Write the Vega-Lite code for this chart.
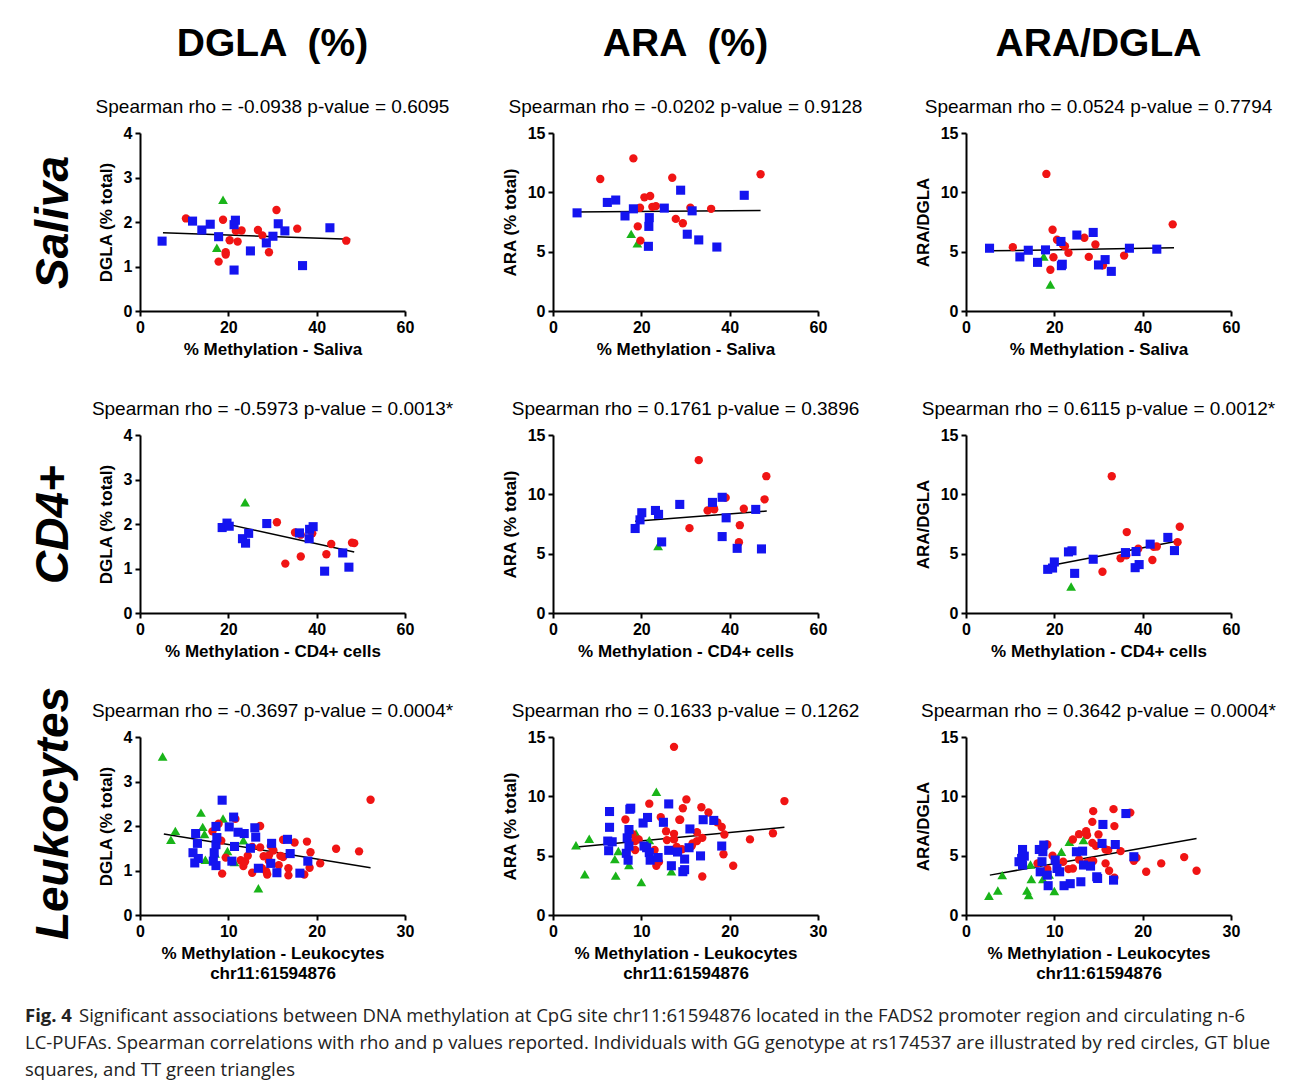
{
"$schema":"https://vega.github.io/schema/vega-lite/v6.json",
"background":"white",
"padding":{"left":25,"top":25,"right":5,"bottom":5},
"config":{
 "view":{"stroke":null},
 "font":"Liberation Sans",
 "axis":{"domainColor":"black","domainWidth":2,"tickColor":"black","tickWidth":2,"tickSize":5,"labelColor":"black","labelFont":"Liberation Sans","labelFontSize":16,"labelFontWeight":"bold","labelPadding":3,"titleColor":"black","titleFont":"Liberation Sans","titleFontSize":17,"titleFontWeight":"bold","grid":false,"labelFlush":false,"titleLineHeight":20},
 "axisX":{"titlePadding":6},
 "axisY":{"titlePadding":8},
 "title":{"font":"Liberation Sans","fontSize":19,"fontWeight":"normal","color":"black","subtitleFont":"Liberation Sans","subtitleFontSize":19,"subtitleColor":"black","offset":8,"anchor":"middle"}
},
"datasets":{
"fit":[
{"p":"SD","x":5.2,"y":1.76},{"p":"SD","x":47.6,"y":1.61},
{"p":"SA","x":4.6,"y":8.35},{"p":"SA","x":47.0,"y":8.47},
{"p":"SR","x":5.4,"y":5.07},{"p":"SR","x":47.1,"y":5.32},
{"p":"CD","x":18.7,"y":2.02},{"p":"CD","x":48.5,"y":1.37},
{"p":"CA","x":18.6,"y":7.74},{"p":"CA","x":48.4,"y":8.59},
{"p":"CR","x":18.6,"y":3.96},{"p":"CR","x":48.3,"y":6.09},
{"p":"LD","x":2.7,"y":1.82},{"p":"LD","x":26.1,"y":1.06},
{"p":"LA","x":2.7,"y":5.73},{"p":"LA","x":26.2,"y":7.39},
{"p":"LR","x":2.7,"y":3.36},{"p":"LR","x":26.1,"y":6.45}
],
"cap":[
{"k":"fig","line":1,"text":"Fig. 4"},
{"k":"l1","line":1,"text":"Significant associations between DNA methylation at CpG site chr11:61594876 located in the FADS2 promoter region and circulating n-6"},
{"k":"l","line":2,"text":"LC-PUFAs. Spearman correlations with rho and p values reported. Individuals with GG genotype at rs174537 are illustrated by red circles, GT blue"},
{"k":"l","line":3,"text":"squares, and TT green triangles"}
],
"pts":[
{"p":"SD","g":"TT","x":17.4,"y":1.42},{"p":"SD","g":"TT","x":18.8,"y":2.50},
{"p":"SD","g":"GG","x":10.4,"y":2.08},{"p":"SD","g":"GG","x":18.8,"y":2.05},{"p":"SD","g":"GG","x":17.8,"y":1.11},{"p":"SD","g":"GG","x":19.4,"y":1.32},{"p":"SD","g":"GG","x":19.4,"y":1.27},{"p":"SD","g":"GG","x":20.3,"y":1.59},{"p":"SD","g":"GG","x":21.7,"y":1.80},{"p":"SD","g":"GG","x":22.1,"y":1.56},{"p":"SD","g":"GG","x":23.0,"y":1.81},{"p":"SD","g":"GG","x":26.7,"y":1.82},{"p":"SD","g":"GG","x":27.7,"y":1.70},{"p":"SD","g":"GG","x":29.2,"y":1.32},{"p":"SD","g":"GG","x":30.9,"y":2.27},{"p":"SD","g":"GG","x":35.6,"y":1.85},{"p":"SD","g":"GG","x":46.7,"y":1.58},
{"p":"SD","g":"GT","x":5.0,"y":1.57},{"p":"SD","g":"GT","x":11.9,"y":2.02},{"p":"SD","g":"GT","x":14.0,"y":1.82},{"p":"SD","g":"GT","x":15.9,"y":1.95},{"p":"SD","g":"GT","x":17.8,"y":1.67},{"p":"SD","g":"GT","x":21.3,"y":0.92},{"p":"SD","g":"GT","x":21.3,"y":1.94},{"p":"SD","g":"GT","x":21.6,"y":2.04},{"p":"SD","g":"GT","x":25.0,"y":1.35},{"p":"SD","g":"GT","x":28.6,"y":1.53},{"p":"SD","g":"GT","x":30.1,"y":1.68},{"p":"SD","g":"GT","x":31.3,"y":1.96},{"p":"SD","g":"GT","x":32.8,"y":1.80},{"p":"SD","g":"GT","x":36.8,"y":1.02},{"p":"SD","g":"GT","x":43.0,"y":1.87},

{"p":"SA","g":"TT","x":17.7,"y":6.50},{"p":"SA","g":"TT","x":19.1,"y":5.70},
{"p":"SA","g":"GG","x":10.7,"y":11.12},{"p":"SA","g":"GG","x":18.2,"y":12.86},{"p":"SA","g":"GG","x":19.7,"y":8.70},{"p":"SA","g":"GG","x":19.2,"y":7.13},{"p":"SA","g":"GG","x":19.8,"y":5.93},{"p":"SA","g":"GG","x":20.7,"y":9.58},{"p":"SA","g":"GG","x":22.0,"y":9.69},{"p":"SA","g":"GG","x":22.5,"y":8.78},{"p":"SA","g":"GG","x":23.3,"y":8.84},{"p":"SA","g":"GG","x":27.0,"y":11.23},{"p":"SA","g":"GG","x":27.8,"y":7.76},{"p":"SA","g":"GG","x":29.4,"y":7.39},{"p":"SA","g":"GG","x":31.1,"y":8.70},{"p":"SA","g":"GG","x":35.8,"y":8.61},{"p":"SA","g":"GG","x":47.0,"y":11.52},
{"p":"SA","g":"GT","x":5.45,"y":8.27},{"p":"SA","g":"GT","x":12.3,"y":9.15},{"p":"SA","g":"GT","x":14.2,"y":9.35},{"p":"SA","g":"GT","x":16.3,"y":8.01},{"p":"SA","g":"GT","x":18.2,"y":8.61},{"p":"SA","g":"GT","x":21.8,"y":7.87},{"p":"SA","g":"GT","x":21.7,"y":7.13},{"p":"SA","g":"GT","x":21.6,"y":5.45},{"p":"SA","g":"GT","x":25.2,"y":8.67},{"p":"SA","g":"GT","x":28.9,"y":10.18},{"p":"SA","g":"GT","x":30.4,"y":6.47},{"p":"SA","g":"GT","x":31.5,"y":8.44},{"p":"SA","g":"GT","x":33.0,"y":5.99},{"p":"SA","g":"GT","x":37.1,"y":5.39},{"p":"SA","g":"GT","x":43.3,"y":9.75},

{"p":"SR","g":"TT","x":17.6,"y":4.59},{"p":"SR","g":"TT","x":19.1,"y":2.24},
{"p":"SR","g":"GG","x":10.6,"y":5.38},{"p":"SR","g":"GG","x":18.2,"y":11.55},{"p":"SR","g":"GG","x":19.1,"y":3.48},{"p":"SR","g":"GG","x":19.6,"y":6.85},{"p":"SR","g":"GG","x":19.8,"y":4.53},{"p":"SR","g":"GG","x":20.6,"y":6.00},{"p":"SR","g":"GG","x":21.9,"y":5.60},{"p":"SR","g":"GG","x":22.4,"y":5.46},{"p":"SR","g":"GG","x":23.2,"y":4.90},{"p":"SR","g":"GG","x":26.8,"y":6.17},{"p":"SR","g":"GG","x":27.8,"y":4.56},{"p":"SR","g":"GG","x":29.3,"y":5.60},{"p":"SR","g":"GG","x":31.0,"y":3.85},{"p":"SR","g":"GG","x":35.8,"y":4.67},{"p":"SR","g":"GG","x":46.8,"y":7.30},
{"p":"SR","g":"GT","x":5.33,"y":5.29},{"p":"SR","g":"GT","x":12.2,"y":4.56},{"p":"SR","g":"GT","x":14.1,"y":5.12},{"p":"SR","g":"GT","x":16.2,"y":4.10},{"p":"SR","g":"GT","x":18.0,"y":5.15},{"p":"SR","g":"GT","x":21.5,"y":5.86},{"p":"SR","g":"GT","x":21.6,"y":3.82},{"p":"SR","g":"GT","x":21.8,"y":3.94},{"p":"SR","g":"GT","x":25.1,"y":6.40},{"p":"SR","g":"GT","x":28.8,"y":6.62},{"p":"SR","g":"GT","x":30.0,"y":3.88},{"p":"SR","g":"GT","x":31.5,"y":4.33},{"p":"SR","g":"GT","x":32.9,"y":3.34},{"p":"SR","g":"GT","x":37.0,"y":5.29},{"p":"SR","g":"GT","x":43.2,"y":5.21},

{"p":"CD","g":"TT","x":23.8,"y":2.49},
{"p":"CD","g":"GG","x":31.0,"y":2.04},{"p":"CD","g":"GG","x":32.9,"y":1.11},{"p":"CD","g":"GG","x":35.1,"y":1.81},{"p":"CD","g":"GG","x":36.4,"y":1.76},{"p":"CD","g":"GG","x":36.4,"y":1.27},{"p":"CD","g":"GG","x":39.0,"y":1.79},{"p":"CD","g":"GG","x":42.2,"y":1.32},{"p":"CD","g":"GG","x":43.3,"y":1.55},{"p":"CD","g":"GG","x":48.0,"y":1.58},{"p":"CD","g":"GG","x":48.5,"y":1.57},
{"p":"CD","g":"GT","x":18.6,"y":1.92},{"p":"CD","g":"GT","x":19.7,"y":2.02},{"p":"CD","g":"GT","x":20.2,"y":1.95},{"p":"CD","g":"GT","x":23.2,"y":1.67},{"p":"CD","g":"GT","x":23.9,"y":1.57},{"p":"CD","g":"GT","x":24.6,"y":1.79},{"p":"CD","g":"GT","x":28.7,"y":2.01},{"p":"CD","g":"GT","x":36.1,"y":1.80},{"p":"CD","g":"GT","x":38.4,"y":1.88},{"p":"CD","g":"GT","x":38.3,"y":1.67},{"p":"CD","g":"GT","x":39.2,"y":1.94},{"p":"CD","g":"GT","x":41.8,"y":0.94},{"p":"CD","g":"GT","x":45.9,"y":1.35},{"p":"CD","g":"GT","x":47.3,"y":1.03},

{"p":"CA","g":"TT","x":23.8,"y":5.65},
{"p":"CA","g":"GG","x":30.9,"y":7.15},{"p":"CA","g":"GG","x":33.0,"y":12.88},{"p":"CA","g":"GG","x":35.0,"y":8.64},{"p":"CA","g":"GG","x":36.4,"y":8.84},{"p":"CA","g":"GG","x":36.5,"y":8.73},{"p":"CA","g":"GG","x":39.1,"y":9.72},{"p":"CA","g":"GG","x":42.3,"y":7.40},{"p":"CA","g":"GG","x":42.1,"y":5.96},{"p":"CA","g":"GG","x":43.2,"y":8.79},{"p":"CA","g":"GG","x":47.9,"y":9.58},{"p":"CA","g":"GG","x":48.3,"y":11.53},
{"p":"CA","g":"GT","x":18.6,"y":7.12},{"p":"CA","g":"GT","x":19.7,"y":7.85},{"p":"CA","g":"GT","x":20.1,"y":8.45},{"p":"CA","g":"GT","x":23.2,"y":8.64},{"p":"CA","g":"GT","x":23.9,"y":8.31},{"p":"CA","g":"GT","x":24.6,"y":5.99},{"p":"CA","g":"GT","x":28.7,"y":9.15},{"p":"CA","g":"GT","x":36.1,"y":9.32},{"p":"CA","g":"GT","x":38.3,"y":9.75},{"p":"CA","g":"GT","x":39.2,"y":8.02},{"p":"CA","g":"GT","x":38.3,"y":6.44},{"p":"CA","g":"GT","x":41.7,"y":5.45},{"p":"CA","g":"GT","x":45.9,"y":8.73},{"p":"CA","g":"GT","x":47.2,"y":5.40},

{"p":"CR","g":"TT","x":23.8,"y":2.24},
{"p":"CR","g":"GG","x":30.9,"y":3.48},{"p":"CR","g":"GG","x":33.0,"y":11.52},{"p":"CR","g":"GG","x":35.0,"y":4.61},{"p":"CR","g":"GG","x":36.4,"y":6.82},{"p":"CR","g":"GG","x":36.3,"y":4.87},{"p":"CR","g":"GG","x":39.0,"y":5.41},{"p":"CR","g":"GG","x":42.2,"y":4.47},{"p":"CR","g":"GG","x":42.5,"y":5.58},{"p":"CR","g":"GG","x":43.2,"y":5.60},{"p":"CR","g":"GG","x":47.9,"y":5.97},{"p":"CR","g":"GG","x":48.4,"y":7.27},
{"p":"CR","g":"GT","x":18.5,"y":3.68},{"p":"CR","g":"GT","x":19.6,"y":3.79},{"p":"CR","g":"GT","x":20.0,"y":4.30},{"p":"CR","g":"GT","x":23.2,"y":5.15},{"p":"CR","g":"GT","x":24.0,"y":5.24},{"p":"CR","g":"GT","x":24.6,"y":3.34},{"p":"CR","g":"GT","x":28.8,"y":4.53},{"p":"CR","g":"GT","x":36.1,"y":5.09},{"p":"CR","g":"GT","x":38.5,"y":5.18},{"p":"CR","g":"GT","x":38.3,"y":3.82},{"p":"CR","g":"GT","x":39.2,"y":4.08},{"p":"CR","g":"GT","x":41.7,"y":5.80},{"p":"CR","g":"GT","x":45.7,"y":6.37},{"p":"CR","g":"GT","x":47.2,"y":5.26},

{"p":"LD","g":"TT","x":2.56,"y":3.56},{"p":"LD","g":"TT","x":3.5,"y":1.69},{"p":"LD","g":"TT","x":4.0,"y":1.89},{"p":"LD","g":"TT","x":6.9,"y":2.30},{"p":"LD","g":"TT","x":7.1,"y":1.98},{"p":"LD","g":"TT","x":7.3,"y":1.82},{"p":"LD","g":"TT","x":7.4,"y":1.24},{"p":"LD","g":"TT","x":9.4,"y":2.17},{"p":"LD","g":"TT","x":9.9,"y":1.44},{"p":"LD","g":"TT","x":10.7,"y":1.19},{"p":"LD","g":"TT","x":11.7,"y":1.68},{"p":"LD","g":"TT","x":13.4,"y":0.60},{"p":"LD","g":"TT","x":8.5,"y":1.38},
{"p":"LD","g":"GG","x":8.2,"y":1.88},{"p":"LD","g":"GG","x":8.9,"y":2.05},{"p":"LD","g":"GG","x":9.2,"y":1.67},{"p":"LD","g":"GG","x":9.3,"y":0.93},{"p":"LD","g":"GG","x":9.7,"y":1.29},{"p":"LD","g":"GG","x":10.8,"y":2.16},{"p":"LD","g":"GG","x":11.4,"y":1.23},{"p":"LD","g":"GG","x":11.7,"y":1.10},{"p":"LD","g":"GG","x":11.9,"y":1.20},{"p":"LD","g":"GG","x":12.2,"y":1.33},{"p":"LD","g":"GG","x":12.7,"y":1.53},{"p":"LD","g":"GG","x":12.7,"y":0.95},{"p":"LD","g":"GG","x":13.6,"y":2.00},{"p":"LD","g":"GG","x":13.6,"y":1.52},{"p":"LD","g":"GG","x":13.8,"y":1.05},{"p":"LD","g":"GG","x":14.0,"y":1.32},{"p":"LD","g":"GG","x":14.3,"y":0.98},{"p":"LD","g":"GG","x":14.4,"y":0.91},{"p":"LD","g":"GG","x":14.6,"y":1.34},{"p":"LD","g":"GG","x":14.6,"y":1.21},{"p":"LD","g":"GG","x":14.8,"y":1.55},{"p":"LD","g":"GG","x":15.1,"y":1.45},{"p":"LD","g":"GG","x":15.7,"y":1.12},{"p":"LD","g":"GG","x":15.9,"y":1.33},{"p":"LD","g":"GG","x":16.2,"y":1.69},{"p":"LD","g":"GG","x":16.2,"y":1.30},{"p":"LD","g":"GG","x":16.8,"y":1.05},{"p":"LD","g":"GG","x":16.8,"y":0.89},{"p":"LD","g":"GG","x":17.5,"y":1.63},{"p":"LD","g":"GG","x":18.6,"y":0.91},{"p":"LD","g":"GG","x":18.9,"y":1.65},{"p":"LD","g":"GG","x":19.3,"y":1.41},{"p":"LD","g":"GG","x":19.2,"y":1.06},{"p":"LD","g":"GG","x":20.4,"y":1.16},{"p":"LD","g":"GG","x":22.2,"y":1.49},{"p":"LD","g":"GG","x":24.8,"y":1.43},{"p":"LD","g":"GG","x":26.1,"y":2.59},
{"p":"LD","g":"GT","x":6.3,"y":1.83},{"p":"LD","g":"GT","x":6.5,"y":1.61},{"p":"LD","g":"GT","x":6.0,"y":1.40},{"p":"LD","g":"GT","x":6.6,"y":1.27},{"p":"LD","g":"GT","x":6.2,"y":1.17},{"p":"LD","g":"GT","x":8.3,"y":1.21},{"p":"LD","g":"GT","x":8.6,"y":1.11},{"p":"LD","g":"GT","x":8.4,"y":1.40},{"p":"LD","g":"GT","x":8.6,"y":1.58},{"p":"LD","g":"GT","x":8.6,"y":1.99},{"p":"LD","g":"GT","x":8.7,"y":1.74},{"p":"LD","g":"GT","x":9.3,"y":2.58},{"p":"LD","g":"GT","x":10.1,"y":1.98},{"p":"LD","g":"GT","x":10.6,"y":2.20},{"p":"LD","g":"GT","x":10.4,"y":1.21},{"p":"LD","g":"GT","x":10.7,"y":1.54},{"p":"LD","g":"GT","x":11.1,"y":1.86},{"p":"LD","g":"GT","x":11.8,"y":1.83},{"p":"LD","g":"GT","x":13.0,"y":1.96},{"p":"LD","g":"GT","x":13.1,"y":1.75},{"p":"LD","g":"GT","x":12.5,"y":1.50},{"p":"LD","g":"GT","x":13.4,"y":1.05},{"p":"LD","g":"GT","x":14.9,"y":1.61},{"p":"LD","g":"GT","x":14.8,"y":1.16},{"p":"LD","g":"GT","x":15.5,"y":0.95},{"p":"LD","g":"GT","x":16.7,"y":1.70},{"p":"LD","g":"GT","x":17.0,"y":1.38},{"p":"LD","g":"GT","x":18.1,"y":0.94},{"p":"LD","g":"GT","x":19.0,"y":1.21},

{"p":"LA","g":"TT","x":2.6,"y":5.87},{"p":"LA","g":"TT","x":3.6,"y":3.43},{"p":"LA","g":"TT","x":4.1,"y":6.42},{"p":"LA","g":"TT","x":7.0,"y":4.71},{"p":"LA","g":"TT","x":7.1,"y":3.32},{"p":"LA","g":"TT","x":7.4,"y":5.40},{"p":"LA","g":"TT","x":8.6,"y":4.21},{"p":"LA","g":"TT","x":9.4,"y":6.86},{"p":"LA","g":"TT","x":10.0,"y":2.77},{"p":"LA","g":"TT","x":10.9,"y":6.31},{"p":"LA","g":"TT","x":11.7,"y":10.38},{"p":"LA","g":"TT","x":13.4,"y":3.68},
{"p":"LA","g":"GG","x":8.2,"y":8.05},{"p":"LA","g":"GG","x":9.0,"y":6.81},{"p":"LA","g":"GG","x":9.3,"y":6.23},{"p":"LA","g":"GG","x":9.3,"y":5.48},{"p":"LA","g":"GG","x":9.7,"y":6.37},{"p":"LA","g":"GG","x":10.9,"y":9.38},{"p":"LA","g":"GG","x":11.5,"y":5.48},{"p":"LA","g":"GG","x":11.7,"y":4.15},{"p":"LA","g":"GG","x":12.0,"y":4.48},{"p":"LA","g":"GG","x":12.2,"y":8.25},{"p":"LA","g":"GG","x":12.8,"y":7.06},{"p":"LA","g":"GG","x":12.9,"y":6.31},{"p":"LA","g":"GG","x":13.7,"y":14.17},{"p":"LA","g":"GG","x":13.7,"y":6.84},{"p":"LA","g":"GG","x":13.7,"y":6.37},{"p":"LA","g":"GG","x":14.0,"y":5.73},{"p":"LA","g":"GG","x":14.3,"y":8.03},{"p":"LA","g":"GG","x":14.4,"y":8.03},{"p":"LA","g":"GG","x":14.6,"y":5.54},{"p":"LA","g":"GG","x":14.7,"y":9.0},{"p":"LA","g":"GG","x":15.1,"y":9.74},{"p":"LA","g":"GG","x":15.7,"y":5.81},{"p":"LA","g":"GG","x":15.8,"y":6.03},{"p":"LA","g":"GG","x":16.3,"y":6.97},{"p":"LA","g":"GG","x":16.3,"y":6.23},{"p":"LA","g":"GG","x":16.8,"y":9.08},{"p":"LA","g":"GG","x":16.9,"y":6.50},{"p":"LA","g":"GG","x":16.9,"y":3.24},{"p":"LA","g":"GG","x":17.6,"y":8.64},{"p":"LA","g":"GG","x":18.6,"y":7.81},{"p":"LA","g":"GG","x":19.1,"y":7.42},{"p":"LA","g":"GG","x":19.4,"y":6.78},{"p":"LA","g":"GG","x":19.3,"y":5.12},{"p":"LA","g":"GG","x":20.4,"y":4.15},{"p":"LA","g":"GG","x":22.3,"y":6.37},{"p":"LA","g":"GG","x":24.9,"y":6.89},{"p":"LA","g":"GG","x":26.2,"y":9.60},
{"p":"LA","g":"GT","x":6.4,"y":8.72},{"p":"LA","g":"GT","x":6.4,"y":7.39},{"p":"LA","g":"GT","x":6.2,"y":6.23},{"p":"LA","g":"GT","x":6.7,"y":6.17},{"p":"LA","g":"GT","x":6.3,"y":5.42},{"p":"LA","g":"GT","x":8.6,"y":7.20},{"p":"LA","g":"GT","x":8.4,"y":6.50},{"p":"LA","g":"GT","x":8.7,"y":8.91},{"p":"LA","g":"GT","x":8.8,"y":9.0},{"p":"LA","g":"GT","x":8.3,"y":5.20},{"p":"LA","g":"GT","x":8.5,"y":4.62},{"p":"LA","g":"GT","x":8.6,"y":5.81},{"p":"LA","g":"GT","x":10.2,"y":7.75},{"p":"LA","g":"GT","x":10.7,"y":8.22},{"p":"LA","g":"GT","x":10.3,"y":5.81},{"p":"LA","g":"GT","x":10.6,"y":5.67},{"p":"LA","g":"GT","x":10.9,"y":5.26},{"p":"LA","g":"GT","x":11.0,"y":4.62},{"p":"LA","g":"GT","x":11.9,"y":4.84},{"p":"LA","g":"GT","x":12.5,"y":7.81},{"p":"LA","g":"GT","x":13.1,"y":9.36},{"p":"LA","g":"GT","x":13.1,"y":5.45},{"p":"LA","g":"GT","x":13.4,"y":4.15},{"p":"LA","g":"GT","x":14.1,"y":5.31},{"p":"LA","g":"GT","x":14.7,"y":3.65},{"p":"LA","g":"GT","x":14.9,"y":4.71},{"p":"LA","g":"GT","x":14.9,"y":3.82},{"p":"LA","g":"GT","x":15.5,"y":7.25},{"p":"LA","g":"GT","x":15.4,"y":5.67},{"p":"LA","g":"GT","x":16.7,"y":4.98},{"p":"LA","g":"GT","x":17.0,"y":8.03},{"p":"LA","g":"GT","x":18.2,"y":7.97},{"p":"LA","g":"GT","x":19.1,"y":5.81},

{"p":"LR","g":"TT","x":2.6,"y":1.63},{"p":"LR","g":"TT","x":3.6,"y":2.07},{"p":"LR","g":"TT","x":4.1,"y":3.36},{"p":"LR","g":"TT","x":6.9,"y":2.07},{"p":"LR","g":"TT","x":7.1,"y":1.68},{"p":"LR","g":"TT","x":7.3,"y":4.26},{"p":"LR","g":"TT","x":7.4,"y":3.03},{"p":"LR","g":"TT","x":8.7,"y":3.03},{"p":"LR","g":"TT","x":9.4,"y":3.42},{"p":"LR","g":"TT","x":10.0,"y":2.02},{"p":"LR","g":"TT","x":10.8,"y":5.33},{"p":"LR","g":"TT","x":11.7,"y":6.17},{"p":"LR","g":"TT","x":13.3,"y":6.31},
{"p":"LR","g":"GG","x":8.1,"y":4.35},{"p":"LR","g":"GG","x":9.2,"y":5.94},{"p":"LR","g":"GG","x":9.0,"y":3.64},{"p":"LR","g":"GG","x":9.2,"y":3.87},{"p":"LR","g":"GG","x":9.8,"y":4.99},{"p":"LR","g":"GG","x":11.0,"y":4.49},{"p":"LR","g":"GG","x":11.6,"y":3.87},{"p":"LR","g":"GG","x":12.1,"y":3.92},{"p":"LR","g":"GG","x":12.1,"y":6.36},{"p":"LR","g":"GG","x":12.8,"y":6.81},{"p":"LR","g":"GG","x":12.8,"y":4.68},{"p":"LR","g":"GG","x":13.6,"y":7.07},{"p":"LR","g":"GG","x":13.7,"y":6.73},{"p":"LR","g":"GG","x":13.7,"y":4.43},{"p":"LR","g":"GG","x":14.0,"y":4.49},{"p":"LR","g":"GG","x":14.3,"y":7.85},{"p":"LR","g":"GG","x":14.3,"y":6.08},{"p":"LR","g":"GG","x":14.4,"y":8.75},{"p":"LR","g":"GG","x":14.4,"y":4.55},{"p":"LR","g":"GG","x":14.7,"y":5.83},{"p":"LR","g":"GG","x":15.0,"y":6.78},{"p":"LR","g":"GG","x":15.8,"y":5.52},{"p":"LR","g":"GG","x":15.8,"y":4.35},{"p":"LR","g":"GG","x":16.1,"y":5.47},{"p":"LR","g":"GG","x":16.2,"y":3.73},{"p":"LR","g":"GG","x":16.7,"y":8.92},{"p":"LR","g":"GG","x":16.8,"y":7.49},{"p":"LR","g":"GG","x":16.8,"y":3.14},{"p":"LR","g":"GG","x":17.5,"y":5.38},{"p":"LR","g":"GG","x":18.6,"y":8.63},{"p":"LR","g":"GG","x":19.0,"y":4.57},{"p":"LR","g":"GG","x":19.3,"y":4.82},{"p":"LR","g":"GG","x":20.4,"y":3.64},{"p":"LR","g":"GG","x":22.1,"y":4.35},{"p":"LR","g":"GG","x":24.7,"y":4.88},{"p":"LR","g":"GG","x":26.1,"y":3.73},
{"p":"LR","g":"GT","x":6.0,"y":4.49},{"p":"LR","g":"GT","x":6.3,"y":4.77},{"p":"LR","g":"GT","x":6.4,"y":5.52},{"p":"LR","g":"GT","x":6.6,"y":4.96},{"p":"LR","g":"GT","x":6.4,"y":4.21},{"p":"LR","g":"GT","x":8.3,"y":5.52},{"p":"LR","g":"GT","x":8.7,"y":5.33},{"p":"LR","g":"GT","x":8.8,"y":5.89},{"p":"LR","g":"GT","x":8.4,"y":3.64},{"p":"LR","g":"GT","x":8.6,"y":4.49},{"p":"LR","g":"GT","x":9.2,"y":3.36},{"p":"LR","g":"GT","x":9.3,"y":2.47},{"p":"LR","g":"GT","x":10.1,"y":4.63},{"p":"LR","g":"GT","x":10.3,"y":3.92},{"p":"LR","g":"GT","x":10.6,"y":3.64},{"p":"LR","g":"GT","x":11.1,"y":2.47},{"p":"LR","g":"GT","x":11.8,"y":2.64},{"p":"LR","g":"GT","x":12.5,"y":5.33},{"p":"LR","g":"GT","x":13.0,"y":2.80},{"p":"LR","g":"GT","x":13.2,"y":5.38},{"p":"LR","g":"GT","x":13.3,"y":4.21},{"p":"LR","g":"GT","x":14.1,"y":4.12},{"p":"LR","g":"GT","x":14.8,"y":3.22},{"p":"LR","g":"GT","x":14.9,"y":3.08},{"p":"LR","g":"GT","x":15.5,"y":7.63},{"p":"LR","g":"GT","x":15.4,"y":6.03},{"p":"LR","g":"GT","x":16.7,"y":2.94},{"p":"LR","g":"GT","x":16.9,"y":5.94},{"p":"LR","g":"GT","x":18.1,"y":8.55},{"p":"LR","g":"GT","x":19.0,"y":4.91}
]
},
"columns":3,
"bounds":"flush",
"align":"all",
"spacing":{"row":124,"column":148},
"concat":[
  {"width":265,"height":178,"title":{"text":"DGLA \u00a0(%)","subtitle":"Spearman rho = -0.0938 p-value = 0.6095","fontSize":39,"fontWeight":"bold","subtitlePadding":34},
   "resolve":{"scale":{"y":"independent"}},
   "layer":[
    {"data":{"name":"fit"},"transform":[{"filter":"datum.p=='SD'"}],"mark":{"type":"line","color":"black","strokeWidth":1.5},"encoding":{"x":{"field":"x","type":"quantitative","scale":{"domain":[0,60],"nice":false}},"y":{"field":"y","type":"quantitative","scale":{"domain":[0,4]},"axis":{"orient":"left","offset":57,"title":"Saliva","titleFontSize":46,"titleFontWeight":"bold","titleFontStyle":"italic","titlePadding":6,"domain":false,"ticks":false,"labels":false}}}},
    {"data":{"name":"pts"},"transform":[{"filter":"datum.p=='SD'"}],"mark":{"type":"point","filled":true,"opacity":1},"encoding":{"x":{"field":"x","type":"quantitative","scale":{"domain":[0,60],"nice":false},"axis":{"values":[0,20,40,60],"title":"% Methylation - Saliva"}},"y":{"field":"y","type":"quantitative","scale":{"domain":[0,4]},"axis":{"orient":"left","values":[0,1,2,3,4],"title":"DGLA (% total)"}},"color":{"field":"g","type":"nominal","legend":null,"scale":{"domain":["GG","GT","TT"],"range":["#f01414","#1414f0","#19b419"]}},"shape":{"field":"g","type":"nominal","legend":null,"scale":{"domain":["GG","GT","TT"],"range":["circle","square","triangle-up"]}},"size":{"field":"g","type":"nominal","legend":null,"scale":{"domain":["GG","GT","TT"],"range":[70,95,70]}}}}
   ]},
  {"width":265,"height":178,"title":{"text":"ARA \u00a0(%)","subtitle":"Spearman rho = -0.0202 p-value = 0.9128","fontSize":39,"fontWeight":"bold","subtitlePadding":34},
   "layer":[
    {"data":{"name":"fit"},"transform":[{"filter":"datum.p=='SA'"}],"mark":{"type":"line","color":"black","strokeWidth":1.5},"encoding":{"x":{"field":"x","type":"quantitative","scale":{"domain":[0,60],"nice":false}},"y":{"field":"y","type":"quantitative","scale":{"domain":[0,15]}}}},
    {"data":{"name":"pts"},"transform":[{"filter":"datum.p=='SA'"}],"mark":{"type":"point","filled":true,"opacity":1},"encoding":{"x":{"field":"x","type":"quantitative","scale":{"domain":[0,60],"nice":false},"axis":{"values":[0,20,40,60],"title":"% Methylation - Saliva"}},"y":{"field":"y","type":"quantitative","scale":{"domain":[0,15]},"axis":{"values":[0,5,10,15],"title":"ARA (% total)"}},"color":{"field":"g","type":"nominal","legend":null,"scale":{"domain":["GG","GT","TT"],"range":["#f01414","#1414f0","#19b419"]}},"shape":{"field":"g","type":"nominal","legend":null,"scale":{"domain":["GG","GT","TT"],"range":["circle","square","triangle-up"]}},"size":{"field":"g","type":"nominal","legend":null,"scale":{"domain":["GG","GT","TT"],"range":[70,95,70]}}}}
   ]},
  {"width":265,"height":178,"title":{"text":"ARA/DGLA","subtitle":"Spearman rho = 0.0524 p-value = 0.7794","fontSize":39,"fontWeight":"bold","subtitlePadding":34},
   "layer":[
    {"data":{"name":"fit"},"transform":[{"filter":"datum.p=='SR'"}],"mark":{"type":"line","color":"black","strokeWidth":1.5},"encoding":{"x":{"field":"x","type":"quantitative","scale":{"domain":[0,60],"nice":false}},"y":{"field":"y","type":"quantitative","scale":{"domain":[0,15]}}}},
    {"data":{"name":"pts"},"transform":[{"filter":"datum.p=='SR'"}],"mark":{"type":"point","filled":true,"opacity":1},"encoding":{"x":{"field":"x","type":"quantitative","scale":{"domain":[0,60],"nice":false},"axis":{"values":[0,20,40,60],"title":"% Methylation - Saliva"}},"y":{"field":"y","type":"quantitative","scale":{"domain":[0,15]},"axis":{"values":[0,5,10,15],"title":"ARA/DGLA"}},"color":{"field":"g","type":"nominal","legend":null,"scale":{"domain":["GG","GT","TT"],"range":["#f01414","#1414f0","#19b419"]}},"shape":{"field":"g","type":"nominal","legend":null,"scale":{"domain":["GG","GT","TT"],"range":["circle","square","triangle-up"]}},"size":{"field":"g","type":"nominal","legend":null,"scale":{"domain":["GG","GT","TT"],"range":[70,95,70]}}}}
   ]},
  {"width":265,"height":178,"title":{"text":"Spearman rho = -0.5973 p-value = 0.0013*"},
   "resolve":{"scale":{"y":"independent"}},
   "layer":[
    {"data":{"name":"fit"},"transform":[{"filter":"datum.p=='CD'"}],"mark":{"type":"line","color":"black","strokeWidth":1.5},"encoding":{"x":{"field":"x","type":"quantitative","scale":{"domain":[0,60],"nice":false}},"y":{"field":"y","type":"quantitative","scale":{"domain":[0,4]},"axis":{"orient":"left","offset":57,"title":"CD4+","titleFontSize":46,"titleFontWeight":"bold","titleFontStyle":"italic","titlePadding":6,"domain":false,"ticks":false,"labels":false}}}},
    {"data":{"name":"pts"},"transform":[{"filter":"datum.p=='CD'"}],"mark":{"type":"point","filled":true,"opacity":1},"encoding":{"x":{"field":"x","type":"quantitative","scale":{"domain":[0,60],"nice":false},"axis":{"values":[0,20,40,60],"title":"% Methylation - CD4+ cells"}},"y":{"field":"y","type":"quantitative","scale":{"domain":[0,4]},"axis":{"orient":"left","values":[0,1,2,3,4],"title":"DGLA (% total)"}},"color":{"field":"g","type":"nominal","legend":null,"scale":{"domain":["GG","GT","TT"],"range":["#f01414","#1414f0","#19b419"]}},"shape":{"field":"g","type":"nominal","legend":null,"scale":{"domain":["GG","GT","TT"],"range":["circle","square","triangle-up"]}},"size":{"field":"g","type":"nominal","legend":null,"scale":{"domain":["GG","GT","TT"],"range":[70,95,70]}}}}
   ]},
  {"width":265,"height":178,"title":{"text":"Spearman rho = 0.1761 p-value = 0.3896"},
   "layer":[
    {"data":{"name":"fit"},"transform":[{"filter":"datum.p=='CA'"}],"mark":{"type":"line","color":"black","strokeWidth":1.5},"encoding":{"x":{"field":"x","type":"quantitative","scale":{"domain":[0,60],"nice":false}},"y":{"field":"y","type":"quantitative","scale":{"domain":[0,15]}}}},
    {"data":{"name":"pts"},"transform":[{"filter":"datum.p=='CA'"}],"mark":{"type":"point","filled":true,"opacity":1},"encoding":{"x":{"field":"x","type":"quantitative","scale":{"domain":[0,60],"nice":false},"axis":{"values":[0,20,40,60],"title":"% Methylation - CD4+ cells"}},"y":{"field":"y","type":"quantitative","scale":{"domain":[0,15]},"axis":{"values":[0,5,10,15],"title":"ARA (% total)"}},"color":{"field":"g","type":"nominal","legend":null,"scale":{"domain":["GG","GT","TT"],"range":["#f01414","#1414f0","#19b419"]}},"shape":{"field":"g","type":"nominal","legend":null,"scale":{"domain":["GG","GT","TT"],"range":["circle","square","triangle-up"]}},"size":{"field":"g","type":"nominal","legend":null,"scale":{"domain":["GG","GT","TT"],"range":[70,95,70]}}}}
   ]},
  {"width":265,"height":178,"title":{"text":"Spearman rho = 0.6115 p-value = 0.0012*"},
   "layer":[
    {"data":{"name":"fit"},"transform":[{"filter":"datum.p=='CR'"}],"mark":{"type":"line","color":"black","strokeWidth":1.5},"encoding":{"x":{"field":"x","type":"quantitative","scale":{"domain":[0,60],"nice":false}},"y":{"field":"y","type":"quantitative","scale":{"domain":[0,15]}}}},
    {"data":{"name":"pts"},"transform":[{"filter":"datum.p=='CR'"}],"mark":{"type":"point","filled":true,"opacity":1},"encoding":{"x":{"field":"x","type":"quantitative","scale":{"domain":[0,60],"nice":false},"axis":{"values":[0,20,40,60],"title":"% Methylation - CD4+ cells"}},"y":{"field":"y","type":"quantitative","scale":{"domain":[0,15]},"axis":{"values":[0,5,10,15],"title":"ARA/DGLA"}},"color":{"field":"g","type":"nominal","legend":null,"scale":{"domain":["GG","GT","TT"],"range":["#f01414","#1414f0","#19b419"]}},"shape":{"field":"g","type":"nominal","legend":null,"scale":{"domain":["GG","GT","TT"],"range":["circle","square","triangle-up"]}},"size":{"field":"g","type":"nominal","legend":null,"scale":{"domain":["GG","GT","TT"],"range":[70,95,70]}}}}
   ]},
  {"width":265,"height":178,"title":{"text":"Spearman rho = -0.3697 p-value = 0.0004*","offset":-35},
   "resolve":{"scale":{"y":"independent"}},
   "layer":[
    {"data":{"name":"fit"},"transform":[{"filter":"datum.p=='LD'"}],"mark":{"type":"line","color":"black","strokeWidth":1.5},"encoding":{"x":{"field":"x","type":"quantitative","scale":{"domain":[0,30],"nice":false}},"y":{"field":"y","type":"quantitative","scale":{"domain":[0,4]},"axis":{"orient":"left","offset":57,"title":"Leukocytes","titleFontSize":46,"titleFontWeight":"bold","titleFontStyle":"italic","titlePadding":6,"titleY":76,"domain":false,"ticks":false,"labels":false}}}},
    {"data":{"name":"pts"},"transform":[{"filter":"datum.p=='LD'"}],"mark":{"type":"point","filled":true,"opacity":1},"encoding":{"x":{"field":"x","type":"quantitative","scale":{"domain":[0,30],"nice":false},"axis":{"values":[0,10,20,30],"title":["% Methylation - Leukocytes","chr11:61594876"]}},"y":{"field":"y","type":"quantitative","scale":{"domain":[0,4]},"axis":{"orient":"left","values":[0,1,2,3,4],"title":"DGLA (% total)"}},"color":{"field":"g","type":"nominal","legend":null,"scale":{"domain":["GG","GT","TT"],"range":["#f01414","#1414f0","#19b419"]}},"shape":{"field":"g","type":"nominal","legend":null,"scale":{"domain":["GG","GT","TT"],"range":["circle","square","triangle-up"]}},"size":{"field":"g","type":"nominal","legend":null,"scale":{"domain":["GG","GT","TT"],"range":[70,95,70]}}}}
   ]},
  {"width":265,"height":178,"title":{"text":"Spearman rho = 0.1633 p-value = 0.1262"},
   "layer":[
    {"data":{"name":"fit"},"transform":[{"filter":"datum.p=='LA'"}],"mark":{"type":"line","color":"black","strokeWidth":1.5},"encoding":{"x":{"field":"x","type":"quantitative","scale":{"domain":[0,30],"nice":false}},"y":{"field":"y","type":"quantitative","scale":{"domain":[0,15]}}}},
    {"data":{"name":"pts"},"transform":[{"filter":"datum.p=='LA'"}],"mark":{"type":"point","filled":true,"opacity":1},"encoding":{"x":{"field":"x","type":"quantitative","scale":{"domain":[0,30],"nice":false},"axis":{"values":[0,10,20,30],"title":["% Methylation - Leukocytes","chr11:61594876"]}},"y":{"field":"y","type":"quantitative","scale":{"domain":[0,15]},"axis":{"values":[0,5,10,15],"title":"ARA (% total)"}},"color":{"field":"g","type":"nominal","legend":null,"scale":{"domain":["GG","GT","TT"],"range":["#f01414","#1414f0","#19b419"]}},"shape":{"field":"g","type":"nominal","legend":null,"scale":{"domain":["GG","GT","TT"],"range":["circle","square","triangle-up"]}},"size":{"field":"g","type":"nominal","legend":null,"scale":{"domain":["GG","GT","TT"],"range":[70,95,70]}}}}
   ]},
  {"width":265,"height":178,"title":{"text":"Spearman rho = 0.3642 p-value = 0.0004*"},
   "layer":[
    {"data":{"name":"fit"},"transform":[{"filter":"datum.p=='LR'"}],"mark":{"type":"line","color":"black","strokeWidth":1.5},"encoding":{"x":{"field":"x","type":"quantitative","scale":{"domain":[0,30],"nice":false}},"y":{"field":"y","type":"quantitative","scale":{"domain":[0,15]}}}},
    {"data":{"name":"pts"},"transform":[{"filter":"datum.p=='LR'"}],"mark":{"type":"point","filled":true,"opacity":1},"encoding":{"x":{"field":"x","type":"quantitative","scale":{"domain":[0,30],"nice":false},"axis":{"values":[0,10,20,30],"title":["% Methylation - Leukocytes","chr11:61594876"]}},"y":{"field":"y","type":"quantitative","scale":{"domain":[0,15]},"axis":{"values":[0,5,10,15],"title":"ARA/DGLA"}},"color":{"field":"g","type":"nominal","legend":null,"scale":{"domain":["GG","GT","TT"],"range":["#f01414","#1414f0","#19b419"]}},"shape":{"field":"g","type":"nominal","legend":null,"scale":{"domain":["GG","GT","TT"],"range":["circle","square","triangle-up"]}},"size":{"field":"g","type":"nominal","legend":null,"scale":{"domain":["GG","GT","TT"],"range":[70,95,70]}}}}
   ]},
  {"width":265,"height":10,"data":{"name":"cap"},
   "layer":[
    {"transform":[{"filter":"datum.k=='fig'"}],"mark":{"type":"text","align":"left","baseline":"middle","font":"Open Sans","fontSize":18.5,"fontWeight":"bold","color":"#222"},"encoding":{"x":{"value":-115},"y":{"field":"line","type":"ordinal","scale":{"type":"point","padding":0,"domain":[1,2,3],"range":[-23,31]},"axis":null},"text":{"field":"text"}}},
    {"transform":[{"filter":"datum.k=='l1'"}],"mark":{"type":"text","align":"left","baseline":"middle","font":"Open Sans","fontSize":18.5,"color":"#222","dx":54},"encoding":{"x":{"value":-115},"y":{"field":"line","type":"ordinal","scale":{"type":"point","padding":0,"domain":[1,2,3],"range":[-23,31]},"axis":null},"text":{"field":"text"}}},
    {"transform":[{"filter":"datum.k=='l'"}],"mark":{"type":"text","align":"left","baseline":"middle","font":"Open Sans","fontSize":18.5,"color":"#222"},"encoding":{"x":{"value":-115},"y":{"field":"line","type":"ordinal","scale":{"type":"point","padding":0,"domain":[1,2,3],"range":[-23,31]},"axis":null},"text":{"field":"text"}}}
   ]}
]
}
